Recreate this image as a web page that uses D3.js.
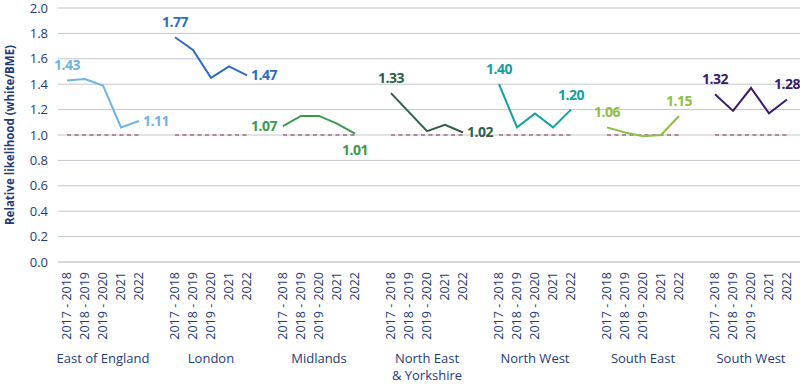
<!DOCTYPE html>
<html>
<head>
<meta charset="utf-8">
<script src="https://cdn.jsdelivr.net/npm/d3@7"></script>
<style>
  body { margin: 0; background: #fff; }
  text { font-family: "Open Sans", "Noto Sans", sans-serif; }
</style>
</head>
<body>
<div id="chart"></div>
<script>
// data
var regions = ["East of England", "London", "Midlands", "North East\n& Yorkshire", "North West", "South East", "South West"];
var years = ["2017 - 2018", "2018 - 2019", "2019 - 2020", "2021", "2022"];
var eastOfEngland = [1.43, 1.44, 1.39, 1.06, 1.11];
var london = [1.77, 1.67, 1.45, 1.54, 1.47];
var midlands = [1.07, 1.15, 1.15, 1.09, 1.01];
var northEast = [1.33, 1.18, 1.03, 1.08, 1.02];
var northWest = [1.40, 1.06, 1.17, 1.06, 1.20];
var southEast = [1.06, 1.02, 0.99, 1.00, 1.15];
var southWest = [1.32, 1.19, 1.37, 1.17, 1.28];
var yTicks = [0, 0.2, 0.4, 0.6, 0.8, 1.0, 1.2, 1.4, 1.6, 1.8, 2.0];
var baseline = 1.0;

var seriesValues = [eastOfEngland, london, midlands, northEast, northWest, southEast, southWest];
var colors = ["#6db3e5", "#2c6cc5", "#3b9a4a", "#2f5f47", "#13a1a4", "#8dc042", "#3a1b6e"];
// where the first / last value label sits
var firstPlace = ["above", "above", "left", "above", "above", "above", "above"];
var lastPlace = ["right", "right", "below", "right", "above", "above", "above"];

var width = 800, height = 384;
var navy = "#1e3c7a";

var svg = d3.select("#chart").append("svg")
  .attr("width", width).attr("height", height);

// one slot per year, with an empty slot between regions
var slots = [];
regions.forEach(function (r, gi) {
  years.forEach(function (yr, i) { slots.push(gi + "|" + i); });
  if (gi < regions.length - 1) slots.push(gi + "|gap");
});

var x = d3.scaleBand().domain(slots).range([58, 796]).padding(0);
var xc = function (gi, i) { return x(gi + "|" + i) + x.bandwidth() / 2; };

var y = d3.scaleLinear().domain([0, 2]).range([262, 8]);

// gridlines
svg.append("g").selectAll("line")
  .data(yTicks)
  .enter().append("line")
  .attr("x1", 58).attr("x2", 800)
  .attr("y1", function (d) { return y(d); })
  .attr("y2", function (d) { return y(d); })
  .attr("stroke", function (d) { return d === 0 ? "#d6d8dc" : "#c3c5cc"; })
  .attr("stroke-width", function (d) { return d === 0 ? 2 : 1; });

// y axis labels
var yAxis = svg.append("g")
  .attr("transform", "translate(52,0)")
  .call(d3.axisLeft(y).tickValues(yTicks).tickFormat(d3.format(".1f")).tickSize(0).tickPadding(4));
yAxis.select(".domain").remove();
yAxis.selectAll("text")
  .attr("fill", navy)
  .style("font-size", "13px")
  .style("font-family", "'Open Sans', sans-serif");

svg.append("text")
  .attr("transform", "translate(10," + y(1) + ") rotate(-90)")
  .attr("text-anchor", "middle")
  .attr("dy", "0.35em")
  .attr("fill", navy)
  .style("font-size", "11.5px")
  .style("font-weight", "700")
  .text("Relative likelihood (white/BME)");

// x tick labels
regions.forEach(function (r, gi) {
  years.forEach(function (yr, i) {
    svg.append("text")
      .attr("transform", "translate(" + xc(gi, i) + ",272) rotate(-90)")
      .attr("text-anchor", "end")
      .attr("dy", "0.35em")
      .attr("fill", navy)
      .style("font-size", "12.5px")
      .text(yr);
  });
  var lines = r.split("\n");
  lines.forEach(function (ln, li) {
    svg.append("text")
      .attr("x", xc(gi, 2))
      .attr("y", 363 + li * 17)
      .attr("text-anchor", "middle")
      .attr("fill", navy)
      .style("font-size", "13px")
      .text(ln);
  });
});

// dashed baseline per region
regions.forEach(function (r, gi) {
  svg.append("line")
    .attr("x1", xc(gi, 0)).attr("x2", xc(gi, years.length - 1))
    .attr("y1", y(baseline)).attr("y2", y(baseline))
    .attr("stroke", "#8c2a5c")
    .attr("stroke-width", 1.1)
    .attr("stroke-dasharray", "4,3.5");
});

// lines
var line = d3.line()
  .x(function (d) { return d.x; })
  .y(function (d) { return y(d.v); });

seriesValues.forEach(function (vals, gi) {
  var pts = vals.map(function (v, i) { return { x: xc(gi, i), v: v }; });
  svg.append("path")
    .datum(pts)
    .attr("fill", "none")
    .attr("stroke", colors[gi])
    .attr("stroke-width", 2)
    .attr("d", line);

  function label(i, place) {
    var px = xc(gi, i), py = y(vals[i]);
    var t = svg.append("text")
      .attr("fill", colors[gi])
      .style("font-size", "14px")
      .style("font-weight", "700")
      .style("letter-spacing", "-0.5px")
      .text(vals[i].toFixed(2));
    if (place === "above") {
      t.attr("x", px).attr("y", py - 10).attr("text-anchor", "middle");
    } else if (place === "below") {
      t.attr("x", px).attr("y", py + 11).attr("dy", "0.71em").attr("text-anchor", "middle");
    } else if (place === "left") {
      t.attr("x", px - 6).attr("y", py).attr("dy", "0.35em").attr("text-anchor", "end");
    } else {
      t.attr("x", px + 4).attr("y", py).attr("dy", "0.35em").attr("text-anchor", "start");
    }
  }
  label(0, firstPlace[gi]);
  label(vals.length - 1, lastPlace[gi]);
});
</script>
</body>
</html>
